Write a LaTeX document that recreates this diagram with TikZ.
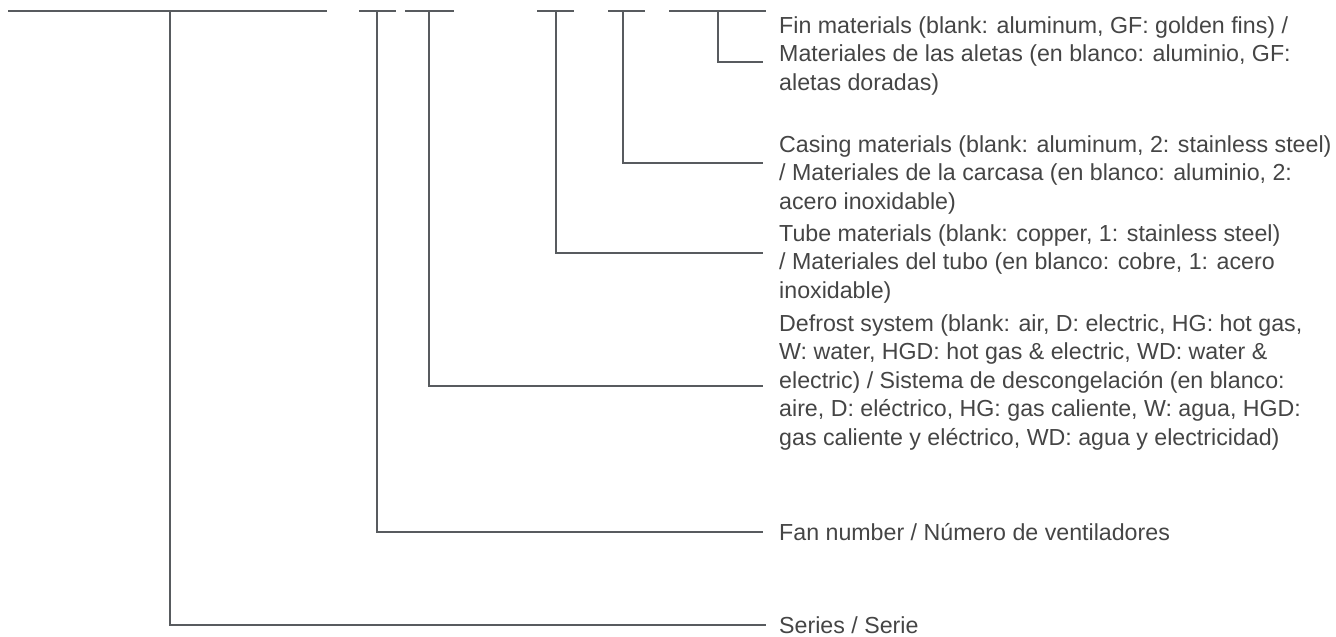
\documentclass[tikz,border=0pt]{standalone}
\usepackage{fontspec}
\setmainfont{Liberation Sans}
\definecolor{leadgray}{HTML}{585B5F}
\definecolor{textgray}{HTML}{454545}

\begin{document}
\begin{tikzpicture}[x=1pt,y=-1pt,
    lead/.style={draw=leadgray, line width=2.3pt},
    desc/.style={anchor=north west, inner sep=0pt, align=left, text=textgray,
      font=\fontsize{23.2}{28.5}\selectfont},
    descline/.style={anchor=base west, inner sep=0pt, text=textgray,
      font=\fontsize{23.2}{28.5}\selectfont}]
  \useasboundingbox (0,0) rectangle (1336,637);
  % code segments along the top
  \draw[lead] (8,11) -- (327,11);
  \draw[lead] (359,11) -- (396,11);
  \draw[lead] (405,11) -- (454,11);
  \draw[lead] (537,11) -- (574,11);
  \draw[lead] (608,11) -- (645,11);
  \draw[lead] (669,11) -- (766,11);
  \coordinate (series) at (170,11);
  \coordinate (fans) at (377,11);
  \coordinate (defrost) at (429,11);
  \coordinate (tube) at (556,11);
  \coordinate (casing) at (623,11);
  \coordinate (fin) at (718,11);
  % descriptions
  \node[desc] (fintxt) at (779,16) {Fin materials (blank: aluminum, GF: golden fins) /\\
    Materiales de las aletas (en blanco: aluminio, GF:\\aletas doradas)};
  \node[desc] (casingtxt) at (779,135) {Casing materials (blank: aluminum, 2: stainless steel)\\
    / Materiales de la carcasa (en blanco: aluminio, 2:\\acero inoxidable)};
  \node[desc] (tubetxt) at (779,224) {Tube materials (blank: copper, 1: stainless steel)\\
    / Materiales del tubo (en blanco: cobre, 1: acero\\inoxidable)};
  \node[desc] (defrosttxt) at (779,314) {Defrost system (blank: air, D: electric, HG: hot gas,\\
    W: water, HGD: hot gas \& electric, WD: water \&\\
    electric) / Sistema de descongelación (en blanco:\\
    aire, D: eléctrico, HG: gas caliente, W: agua, HGD:\\
    gas caliente y eléctrico, WD: agua y electricidad)};
  \node[descline] (fanstxt) at (779,540) {Fan number / Número de ventiladores};
  \node[descline] (seriestxt) at (779,633) {Series / Serie};
  % leader lines
  \coordinate (finend) at (763,62);
  \coordinate (casingend) at (763,163);
  \coordinate (tubeend) at (763,253);
  \coordinate (defrostend) at (763,386);
  \coordinate (fansend) at (763,532);
  \coordinate (seriesend) at (766,625);
  \draw[lead] (fin) |- (finend);
  \draw[lead] (casing) |- (casingend);
  \draw[lead] (tube) |- (tubeend);
  \draw[lead] (defrost) |- (defrostend);
  \draw[lead] (fans) |- (fansend);
  \draw[lead] (series) |- (seriesend);
\end{tikzpicture}
\end{document}
